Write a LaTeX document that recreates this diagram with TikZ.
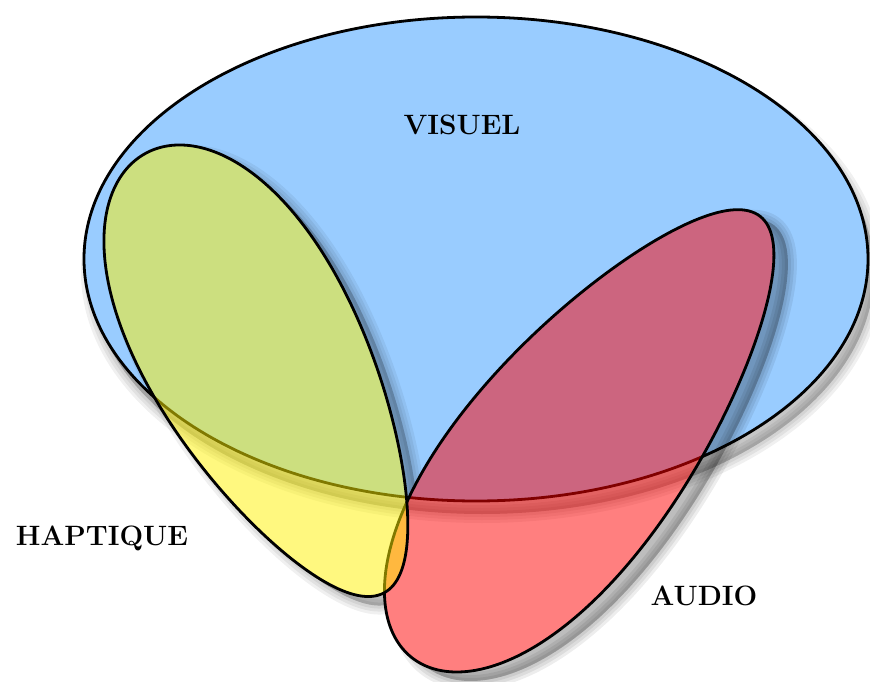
\documentclass[tikz,border=0pt]{standalone}
\definecolor{vblue}{RGB}{153,204,255}
\def\bluepath{(476,259) ellipse [x radius=392, y radius=242]}
\def\redpath{plot[domain=0:360,samples=181,smooth,variable=\t]
  ({586 + 281*cos(\t)*0.620 + 0.785*110*sin(\t)*(1-0.2*cos(\t))},
   {437 - 281*cos(\t)*0.785 + 0.620*110*sin(\t)*(1-0.2*cos(\t))}) -- cycle}
\def\yelpath{plot[domain=0:360,samples=181,smooth,variable=\t]
  ({265 + 250*cos(\t)*0.477 - 0.879*107*sin(\t)*(1-0.2*cos(\t))},
   {373 + 250*cos(\t)*0.879 + 0.477*107*sin(\t)*(1-0.2*cos(\t))}) -- cycle}
\newcommand\mkshadow[4]{%
  \begin{scope}[shift={(#2,#3)}]
    \foreach \w in {18,12,6}{\filldraw[black,opacity=#4,line width=\w pt,line join=round] #1;}
    \fill[black,opacity=#4] #1;
  \end{scope}}
\begin{document}
\begin{tikzpicture}[x=1pt,y=-1pt,
  outline/.style={draw=black,line width=2.8pt},
  lab/.style={font=\fontsize{28}{34}\selectfont\bfseries,anchor=base,inner sep=0pt}]
\useasboundingbox (0,0) rectangle (870,682);
\fill[white] (0,0) rectangle (870,682);
% visuel
\mkshadow{\bluepath}{6}{13}{0.06}
\fill[vblue] \bluepath;
\draw[outline] \bluepath;
% shadows of red and yellow
\begin{scope}[even odd rule]
  \clip (-50,-50) rectangle (920,730) \redpath;
  \mkshadow{\redpath}{14}{9}{0.07}
\end{scope}
\begin{scope}[even odd rule]
  \clip (-50,-50) rectangle (920,730) \redpath;
  \clip (-50,-50) rectangle (920,730) \yelpath;
  \mkshadow{\yelpath}{11}{9}{0.06}
\end{scope}
% audio
\fill[red,opacity=0.5] \redpath;
\draw[outline] \redpath;
% haptique
\fill[yellow,opacity=0.5] \yelpath;
\draw[outline] \yelpath;
% labels
\node[lab] (visuel) at (462,135) {VISUEL};
\node[lab] (haptique) at (102,545) {HAPTIQUE};
\node[lab] (audio) at (704,605) {AUDIO};
\end{tikzpicture}
\end{document}
